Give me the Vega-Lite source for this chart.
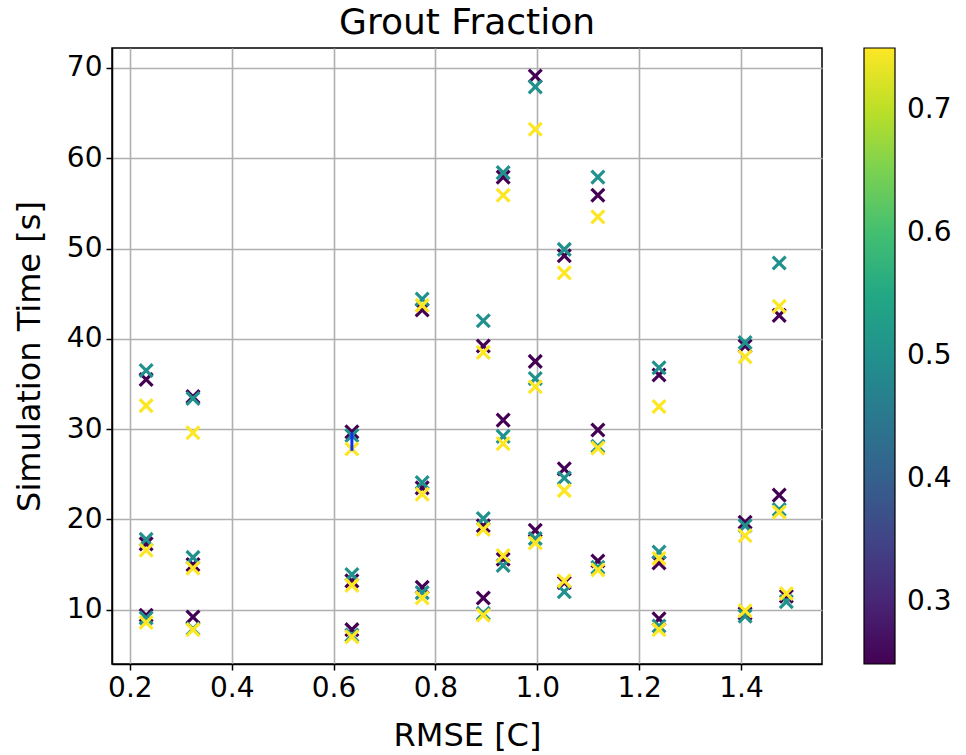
{
  "$schema": "https://vega.github.io/schema/vega-lite/v6.json",
  "width": 710,
  "height": 616,
  "autosize": "none",
  "padding": {"left": 112, "top": 48, "right": 144, "bottom": 91},
  "background": "white",
  "config": {
    "font": "DejaVu Sans",
    "view": {"stroke": "black", "strokeWidth": 1.5},
    "axis": {
      "labelFont": "DejaVu Sans",
      "titleFont": "DejaVu Sans",
      "labelFontSize": 28,
      "titleFontSize": 32,
      "labelColor": "black",
      "titleColor": "black",
      "titleFontWeight": "normal",
      "gridColor": "#b0b0b0",
      "gridWidth": 1.6,
      "gridOpacity": 1,
      "domainColor": "black",
      "domainWidth": 1.5,
      "tickColor": "black",
      "tickSize": 6,
      "tickWidth": 1.5,
      "labelPadding": 4
    },
    "title": {"font": "DejaVu Sans", "fontSize": 36, "fontWeight": "normal", "color": "black", "offset": 6}
  },
  "title": {"text": "Grout Fraction", "anchor": "middle"},
  "layer": [
    {
      "data": {"values": [
        {"rmse": 0.232, "time": 35.5, "grout": 0.25},
        {"rmse": 0.232, "time": 36.5, "grout": 0.5},
        {"rmse": 0.232, "time": 32.6, "grout": 0.75},
        {"rmse": 0.232, "time": 17.3, "grout": 0.25},
        {"rmse": 0.232, "time": 17.8, "grout": 0.5},
        {"rmse": 0.232, "time": 16.6, "grout": 0.75},
        {"rmse": 0.232, "time": 9.4, "grout": 0.25},
        {"rmse": 0.232, "time": 9.1, "grout": 0.5},
        {"rmse": 0.232, "time": 8.6, "grout": 0.75},
        {"rmse": 0.324, "time": 33.6, "grout": 0.25},
        {"rmse": 0.324, "time": 33.4, "grout": 0.5},
        {"rmse": 0.324, "time": 29.6, "grout": 0.75},
        {"rmse": 0.324, "time": 15.0, "grout": 0.25},
        {"rmse": 0.324, "time": 15.8, "grout": 0.5},
        {"rmse": 0.324, "time": 14.6, "grout": 0.75},
        {"rmse": 0.324, "time": 9.2, "grout": 0.25},
        {"rmse": 0.324, "time": 7.9, "grout": 0.5},
        {"rmse": 0.324, "time": 7.8, "grout": 0.75},
        {"rmse": 0.636, "time": 29.7, "grout": 0.25},
        {"rmse": 0.636, "time": 29.3, "grout": 0.5},
        {"rmse": 0.636, "time": 27.8, "grout": 0.75},
        {"rmse": 0.636, "time": 13.2, "grout": 0.25},
        {"rmse": 0.636, "time": 13.9, "grout": 0.5},
        {"rmse": 0.636, "time": 12.7, "grout": 0.75},
        {"rmse": 0.636, "time": 7.8, "grout": 0.25},
        {"rmse": 0.636, "time": 7.2, "grout": 0.5},
        {"rmse": 0.636, "time": 7.0, "grout": 0.75},
        {"rmse": 0.774, "time": 43.2, "grout": 0.25},
        {"rmse": 0.774, "time": 44.4, "grout": 0.5},
        {"rmse": 0.774, "time": 43.7, "grout": 0.75},
        {"rmse": 0.774, "time": 23.5, "grout": 0.25},
        {"rmse": 0.774, "time": 24.1, "grout": 0.5},
        {"rmse": 0.774, "time": 22.8, "grout": 0.75},
        {"rmse": 0.774, "time": 12.5, "grout": 0.25},
        {"rmse": 0.774, "time": 11.9, "grout": 0.5},
        {"rmse": 0.774, "time": 11.3, "grout": 0.75},
        {"rmse": 0.894, "time": 39.2, "grout": 0.25},
        {"rmse": 0.894, "time": 42.0, "grout": 0.5},
        {"rmse": 0.894, "time": 38.5, "grout": 0.75},
        {"rmse": 0.894, "time": 19.3, "grout": 0.25},
        {"rmse": 0.894, "time": 20.1, "grout": 0.5},
        {"rmse": 0.894, "time": 18.9, "grout": 0.75},
        {"rmse": 0.894, "time": 11.3, "grout": 0.25},
        {"rmse": 0.894, "time": 9.6, "grout": 0.5},
        {"rmse": 0.894, "time": 9.4, "grout": 0.75},
        {"rmse": 0.933, "time": 57.9, "grout": 0.25},
        {"rmse": 0.933, "time": 58.4, "grout": 0.5},
        {"rmse": 0.933, "time": 55.9, "grout": 0.75},
        {"rmse": 0.933, "time": 31.0, "grout": 0.25},
        {"rmse": 0.933, "time": 29.2, "grout": 0.5},
        {"rmse": 0.933, "time": 28.4, "grout": 0.75},
        {"rmse": 0.933, "time": 15.6, "grout": 0.25},
        {"rmse": 0.933, "time": 14.9, "grout": 0.5},
        {"rmse": 0.933, "time": 16.0, "grout": 0.75},
        {"rmse": 0.996, "time": 69.1, "grout": 0.25},
        {"rmse": 0.996, "time": 67.9, "grout": 0.5},
        {"rmse": 0.996, "time": 63.2, "grout": 0.75},
        {"rmse": 0.996, "time": 37.5, "grout": 0.25},
        {"rmse": 0.996, "time": 35.6, "grout": 0.5},
        {"rmse": 0.996, "time": 34.7, "grout": 0.75},
        {"rmse": 0.996, "time": 18.8, "grout": 0.25},
        {"rmse": 0.996, "time": 17.9, "grout": 0.5},
        {"rmse": 0.996, "time": 17.4, "grout": 0.75},
        {"rmse": 1.053, "time": 49.2, "grout": 0.25},
        {"rmse": 1.053, "time": 49.9, "grout": 0.5},
        {"rmse": 1.053, "time": 47.3, "grout": 0.75},
        {"rmse": 1.053, "time": 25.6, "grout": 0.25},
        {"rmse": 1.053, "time": 24.6, "grout": 0.5},
        {"rmse": 1.053, "time": 23.2, "grout": 0.75},
        {"rmse": 1.053, "time": 13.0, "grout": 0.25},
        {"rmse": 1.053, "time": 12.0, "grout": 0.5},
        {"rmse": 1.053, "time": 13.2, "grout": 0.75},
        {"rmse": 1.119, "time": 55.9, "grout": 0.25},
        {"rmse": 1.119, "time": 57.9, "grout": 0.5},
        {"rmse": 1.119, "time": 53.5, "grout": 0.75},
        {"rmse": 1.119, "time": 29.9, "grout": 0.25},
        {"rmse": 1.119, "time": 28.1, "grout": 0.5},
        {"rmse": 1.119, "time": 27.9, "grout": 0.75},
        {"rmse": 1.119, "time": 15.4, "grout": 0.25},
        {"rmse": 1.119, "time": 14.7, "grout": 0.5},
        {"rmse": 1.119, "time": 14.4, "grout": 0.75},
        {"rmse": 1.239, "time": 36.0, "grout": 0.25},
        {"rmse": 1.239, "time": 36.8, "grout": 0.5},
        {"rmse": 1.239, "time": 32.5, "grout": 0.75},
        {"rmse": 1.239, "time": 15.2, "grout": 0.25},
        {"rmse": 1.239, "time": 16.4, "grout": 0.5},
        {"rmse": 1.239, "time": 15.7, "grout": 0.75},
        {"rmse": 1.239, "time": 9.0, "grout": 0.25},
        {"rmse": 1.239, "time": 8.2, "grout": 0.5},
        {"rmse": 1.239, "time": 7.8, "grout": 0.75},
        {"rmse": 1.408, "time": 39.2, "grout": 0.25},
        {"rmse": 1.408, "time": 39.6, "grout": 0.5},
        {"rmse": 1.408, "time": 38.0, "grout": 0.75},
        {"rmse": 1.408, "time": 19.7, "grout": 0.25},
        {"rmse": 1.408, "time": 19.3, "grout": 0.5},
        {"rmse": 1.408, "time": 18.2, "grout": 0.75},
        {"rmse": 1.408, "time": 9.6, "grout": 0.25},
        {"rmse": 1.408, "time": 9.3, "grout": 0.5},
        {"rmse": 1.408, "time": 9.9, "grout": 0.75},
        {"rmse": 1.475, "time": 42.6, "grout": 0.25},
        {"rmse": 1.475, "time": 48.4, "grout": 0.5},
        {"rmse": 1.475, "time": 43.6, "grout": 0.75},
        {"rmse": 1.475, "time": 22.7, "grout": 0.25},
        {"rmse": 1.475, "time": 21.1, "grout": 0.5},
        {"rmse": 1.475, "time": 20.8, "grout": 0.75},
        {"rmse": 1.489, "time": 11.5, "grout": 0.25},
        {"rmse": 1.489, "time": 10.9, "grout": 0.5},
        {"rmse": 1.489, "time": 11.8, "grout": 0.75}
      ]},
      "mark": {
        "type": "point",
        "shape": "M-1,-1L1,1M-1,1L1,-1",
        "filled": false,
        "strokeWidth": 3.2,
        "size": 165,
        "opacity": 1
      },
      "encoding": {
        "x": {
          "field": "rmse", "type": "quantitative",
          "scale": {"domain": [0.165, 1.559], "nice": false, "zero": false},
          "axis": {"values": [0.2, 0.4, 0.6, 0.8, 1.0, 1.2, 1.4], "format": ".1f", "title": "RMSE [C]", "titlePadding": 18}
        },
        "y": {
          "field": "time", "type": "quantitative",
          "scale": {"domain": [4.0, 72.2], "nice": false, "zero": false},
          "axis": {"values": [10, 20, 30, 40, 50, 60, 70], "title": "Simulation Time [s]", "titlePadding": 20}
        },
        "color": {
          "field": "grout", "type": "quantitative",
          "scale": {"scheme": "viridis", "domain": [0.25, 0.75]},
          "legend": {
            "title": null,
            "orient": "none",
            "legendX": 752,
            "legendY": 0,
            "direction": "vertical",
            "gradientLength": 616,
            "gradientThickness": 31,
            "gradientStrokeColor": "black",
            "gradientStrokeWidth": 1.2,
            "values": [0.3, 0.4, 0.5, 0.6, 0.7],
            "format": ".1f",
            "labelFontSize": 28,
            "labelFont": "DejaVu Sans",
            "labelColor": "black",
            "labelOffset": 12,
            "labelOverlap": false
          }
        }
      }
    },
    {
      "data": {"values": [{"rmse": 0.636, "low": 27.6, "high": 29.6}]},
      "mark": {"type": "rule", "color": "#1030f0", "strokeWidth": 3},
      "encoding": {
        "x": {"field": "rmse", "type": "quantitative"},
        "y": {"field": "low", "type": "quantitative"},
        "y2": {"field": "high"}
      }
    }
  ]
}
